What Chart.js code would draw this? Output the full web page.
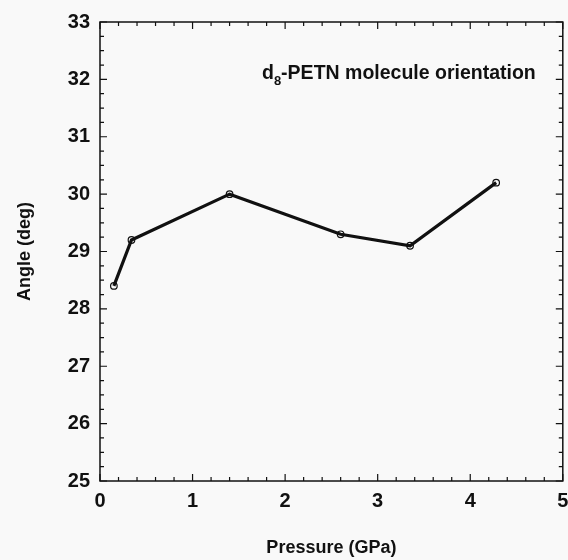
<!DOCTYPE html>
<html>
<head>
<meta charset="utf-8">
<script src="https://cdn.jsdelivr.net/npm/chart.js@4.4.1/dist/chart.umd.min.js"></script>
<style>
  html, body { margin: 0; padding: 0; background: #f9f9f9; overflow: hidden; }
  #wrap { width: 568px; height: 560px; }
</style>
</head>
<body>
<div id="wrap"><canvas id="c" width="568" height="560"></canvas></div>
<script>
// ---- data ----
const pressure = [0.15, 0.34, 1.40, 2.60, 3.35, 4.28];   // GPa
const angle    = [28.4, 29.2, 30.0, 29.3, 29.1, 30.2];   // deg
const xTicks = [0, 1, 2, 3, 4, 5];
const yTicks = [25, 26, 27, 28, 29, 30, 31, 32, 33];
const xTitle = 'Pressure (GPa)';
const yTitle = 'Angle (deg)';
const noteMain = 'd';
const noteSub = '8';
const noteRest = '-PETN molecule orientation';

const FONT = "'Liberation Sans', Arial, Helvetica, sans-serif";

const framePlugin = {
  id: 'frame',
  beforeDraw(chart) {
    const ctx = chart.ctx;
    ctx.save();
    ctx.fillStyle = '#f9f9f9';
    ctx.fillRect(0, 0, chart.width, chart.height);
    ctx.restore();
  },
  afterDatasetsDraw(chart) {
    const ctx = chart.ctx;
    const a = chart.chartArea;
    const xs = chart.scales.x, ys = chart.scales.y;
    ctx.save();
    ctx.strokeStyle = '#111';
    ctx.lineWidth = 1.5;
    ctx.strokeRect(a.left, a.top, a.right - a.left, a.bottom - a.top);
    ctx.lineWidth = 1.2;
    ctx.beginPath();
    // x ticks: major every 1, minor every 0.2
    for (let i = 0; i <= 25; i++) {
      const v = xs.min + i * 0.2;
      const px = xs.getPixelForValue(v);
      const len = (i % 5 === 0) ? 7 : 4;
      ctx.moveTo(px, a.bottom); ctx.lineTo(px, a.bottom - len);
      ctx.moveTo(px, a.top); ctx.lineTo(px, a.top + len);
    }
    // y ticks: major every 1, minor every 0.25
    for (let i = 0; i <= 32; i++) {
      const v = ys.min + i * 0.25;
      const py = ys.getPixelForValue(v);
      const len = (i % 4 === 0) ? 7 : 4;
      ctx.moveTo(a.left, py); ctx.lineTo(a.left + len, py);
      ctx.moveTo(a.right, py); ctx.lineTo(a.right - len, py);
    }
    ctx.stroke();

    // annotation
    const nx = xs.getPixelForValue(1.75);
    const ny = ys.getPixelForValue(32.0);
    ctx.fillStyle = '#111';
    ctx.textBaseline = 'alphabetic';
    ctx.textAlign = 'left';
    ctx.font = 'bold 19.5px ' + FONT;
    ctx.fillText(noteMain, nx, ny);
    let w = ctx.measureText(noteMain).width;
    ctx.font = 'bold 13px ' + FONT;
    ctx.fillText(noteSub, nx + w, ny + 6);
    w += ctx.measureText(noteSub).width;
    ctx.font = 'bold 19.5px ' + FONT;
    ctx.fillText(noteRest, nx + w, ny);
    ctx.restore();
  }
};

new Chart(document.getElementById('c'), {
  type: 'scatter',
  data: {
    datasets: [{
      data: pressure.map((p, i) => ({ x: p, y: angle[i] })),
      showLine: true,
      borderColor: '#111',
      borderWidth: 3.2,
      pointRadius: 3.3,
      pointBorderWidth: 1.2,
      pointBorderColor: '#111',
      pointBackgroundColor: 'rgba(0,0,0,0)',
      tension: 0
    }]
  },
  options: {
    responsive: false,
    animation: false,
    devicePixelRatio: 1,
    layout: { padding: { left: 0, right: 5, top: 22, bottom: 0 } },
    plugins: { legend: { display: false }, tooltip: { enabled: false } },
    scales: {
      x: {
        type: 'linear', min: 0, max: 5,
        afterFit(s) { s.height = 79; s.paddingRight = 0; s.paddingLeft = 0; },
        afterBuildTicks(s) { s.ticks = xTicks.map(v => ({ value: v })); },
        grid: { display: false, drawTicks: false },
        border: { display: false },
        ticks: { color: '#111', padding: 8, font: { family: FONT, size: 20, weight: 'bold' } },
        title: { display: true, text: xTitle, color: '#111', padding: { top: 0, bottom: 1 },
                 font: { family: FONT, size: 18, weight: 'bold' } }
      },
      y: {
        type: 'linear', min: 25, max: 33,
        afterFit(s) { s.width = 100; s.paddingTop = 0; s.paddingBottom = 0; },
        afterBuildTicks(s) { s.ticks = yTicks.map(v => ({ value: v })); },
        grid: { display: false, drawTicks: false },
        border: { display: false },
        ticks: { color: '#111', padding: 10, font: { family: FONT, size: 20, weight: 'bold' } },
        title: { display: true, text: yTitle, color: '#111', padding: { top: 14, bottom: 0 },
                 font: { family: FONT, size: 18, weight: 'bold' } }
      }
    }
  },
  plugins: [framePlugin]
});
</script>
</body>
</html>
